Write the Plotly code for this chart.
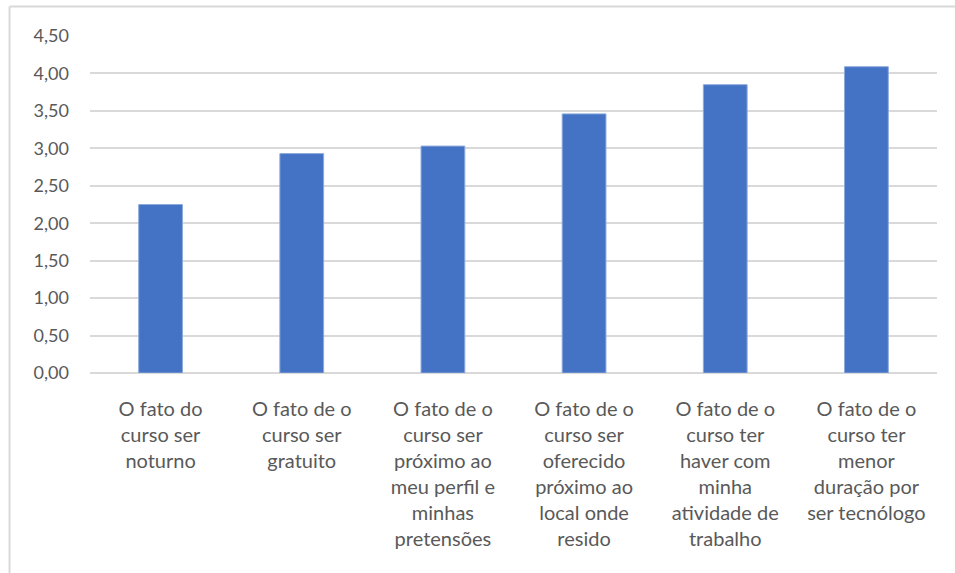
import plotly.graph_objects as go

categories = [
    "O fato do<br>curso ser<br>noturno",
    "O fato de o<br>curso ser<br>gratuito",
    "O fato de o<br>curso ser<br>próximo ao<br>meu perfil e<br>minhas<br>pretensões",
    "O fato de o<br>curso ser<br>oferecido<br>próximo ao<br>local onde<br>resido",
    "O fato de o<br>curso ter<br>haver com<br>minha<br>atividade de<br>trabalho",
    "O fato de o<br>curso ter<br>menor<br>duração por<br>ser tecnólogo",
]
values = [2.25, 2.93, 3.03, 3.46, 3.85, 4.09]
y_ticks = [0, 0.5, 1.0, 1.5, 2.0, 2.5, 3.0, 3.5, 4.0, 4.5]

fig = go.Figure(
    go.Bar(
        x=categories,
        y=values,
        width=0.31,
        marker=dict(color="#4472C4", line=dict(color="#8eaadc", width=1)),
    )
)

font_family = "Lato, 'Open Sans', sans-serif"

fig.update_layout(
    width=955,
    height=573,
    margin=dict(l=90, r=18, t=36, b=200),
    paper_bgcolor="white",
    plot_bgcolor="white",
    separators=",.",
    showlegend=False,
    font=dict(family=font_family, size=18, color="#595959"),
    xaxis=dict(
        showgrid=False,
        showline=False,
        ticks="",
        tickangle=0,
        ticklabelstandoff=22,
        tickfont=dict(size=20, color="#595959"),
    ),
    yaxis=dict(
        range=[0, 4.5],
        tickvals=y_ticks,
        tickformat=".2f",
        showgrid=True,
        gridcolor="#d9d9d9",
        gridwidth=1.5,
        zeroline=True,
        zerolinecolor="#d9d9d9",
        zerolinewidth=1.5,
        showline=False,
        ticks="",
        ticklabelstandoff=20,
        tickfont=dict(size=18, color="#595959"),
    ),
    shapes=[
        dict(type="line", xref="paper", yref="paper",
             x0=-0.095, x1=1.05, y0=1.0875, y1=1.0875,
             line=dict(color="#d9d9d9", width=2)),
        dict(type="line", xref="paper", yref="paper",
             x0=-0.095, x1=-0.095, y0=1.0875, y1=-0.62,
             line=dict(color="#d9d9d9", width=2)),
    ],
)

fig.write_html(
    "out.html",
    config={"displayModeBar": False},
    post_script="document.body.style.margin='0';document.body.style.overflow='hidden';",
)
